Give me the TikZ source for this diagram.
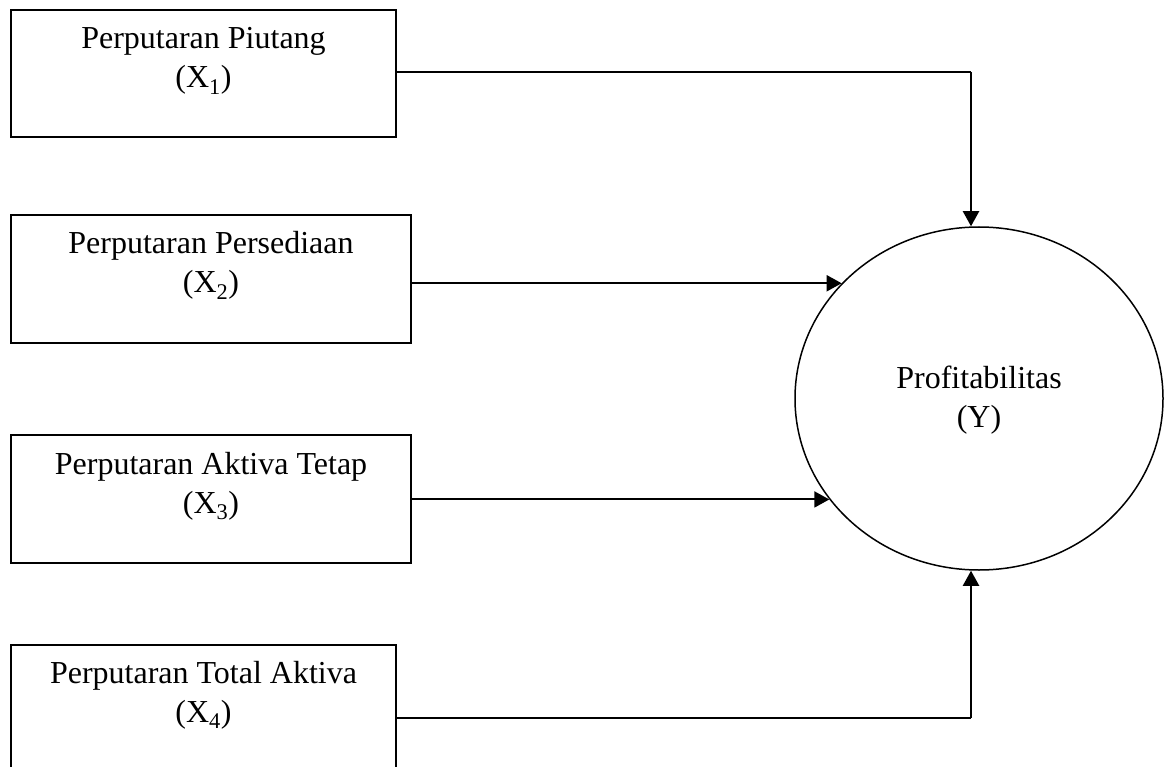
\documentclass[tikz,border=0pt]{standalone}
\usepackage{fontspec}
\setmainfont{Liberation Serif}
\usetikzlibrary{arrows.meta,shapes.geometric}
\tikzset{
  varbox/.style={draw, line width=2pt, rectangle, inner sep=0pt, minimum height=127pt},
  lbl/.style={anchor=base, inner sep=0pt, font=\fontsize{32}{38}\selectfont},
  ybox/.style={draw, line width=1.5pt, ellipse, inner sep=0pt, minimum width=368pt, minimum height=343pt},
  arr/.style={line width=2pt, -{Triangle[length=15pt,width=16pt]}},
  conn/.style={line width=2pt}
}
\begin{document}
\begin{tikzpicture}[x=1pt,y=-1pt]
\useasboundingbox (0,0) rectangle (1167,767);
\clip (0,0) rectangle (1167,767);
% boxes
\node[varbox, minimum width=385pt] (b1) at (203.5,73.5) {};
\node[varbox, minimum width=400pt, minimum height=128pt] (b2) at (211,279) {};
\node[varbox, minimum width=400pt, minimum height=128pt] (b3) at (211,499) {};
\node[varbox, minimum width=385pt] (b4) at (203.5,708) {};
% labels
\node[lbl] (t1a) at (203.5,49) {Perputaran Piutang};
\node[lbl] (t1b) at (203.5,88) {(X\textsubscript{1})};
\node[lbl] (t2a) at (211,254) {Perputaran Persediaan};
\node[lbl] (t2b) at (211,293) {(X\textsubscript{2})};
\node[lbl] (t3a) at (211,474) {Perputaran Aktiva Tetap};
\node[lbl] (t3b) at (211,513) {(X\textsubscript{3})};
\node[lbl] (t4a) at (203.5,683) {Perputaran Total Aktiva};
\node[lbl] (t4b) at (203.5,722) {(X\textsubscript{4})};
% dependent variable
\node[ybox] (Y) at (979,398.5) {};
\node[lbl] (ya) at (979,388) {Profitabilitas};
\node[lbl] (yb) at (979,427) {(Y)};
% connectors
\coordinate (c1) at (971,72);
\coordinate (c4) at (971,718);
\draw[conn] (b1.east |- c1) -- (c1);
\draw[arr] (c1) -- (Y.north -| c1);
\draw[arr] (b2.east |- Y.140) -- (Y.140);
\draw[arr] (b3.east |- Y.214) -- (Y.214);
\draw[conn] (b4.east |- c4) -- (c4);
\draw[arr] (c4) -- (Y.south -| c4);
\end{tikzpicture}
\end{document}
